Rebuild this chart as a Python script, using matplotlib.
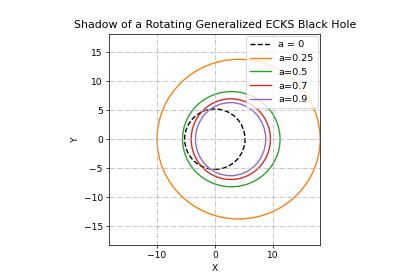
import matplotlib
matplotlib.use("Agg")
import matplotlib.pyplot as plt
from matplotlib.patches import Ellipse
from matplotlib.lines import Line2D

# shadow outlines: centre x, full width, full height
labels = ["a = 0", "a=0.25", "a=0.5", "a=0.7", "a=0.9"]
center_x = [0.0, 4.1, 2.84, 2.75, 2.72]
widths = [10.4, 28.1, 16.8, 13.65, 12.1]
heights = [10.4, 27.5, 16.4, 13.9, 12.6]
colors = ["black", "tab:orange", "tab:green", "tab:red", "tab:purple"]
styles = ["--", "-", "-", "-", "-"]

fig = plt.figure(figsize=(6.4, 4.2667), dpi=65.625)
ax = fig.add_axes([0.260, 0.125, 0.503, 0.756])

handles = []
for lab, cx, w, h, c, ls in zip(labels, center_x, widths, heights, colors, styles):
    ax.add_patch(Ellipse((cx, 0), w, h, fill=False, edgecolor=c,
                         linestyle=ls, linewidth=1.5))
    handles.append(Line2D([], [], color=c, linestyle=ls, linewidth=1.5, label=lab))

ax.set_xlim(-18.2, 18.2)
ax.set_ylim(-18.2, 18.2)
ax.set_aspect("equal")
ax.set_xticks([-10, 0, 10])
ax.set_yticks([-15, -10, -5, 0, 5, 10, 15])
ax.grid(True, linestyle="-.")
ax.set_xlabel("X")
ax.set_ylabel("Y")
ax.set_title("Shadow of a Rotating Generalized ECKS Black Hole")
ax.legend(handles=handles, loc="upper right", fontsize=10.5,
          handlelength=2.2, borderaxespad=0.3)

fig.savefig("out.png", dpi=65.625)
